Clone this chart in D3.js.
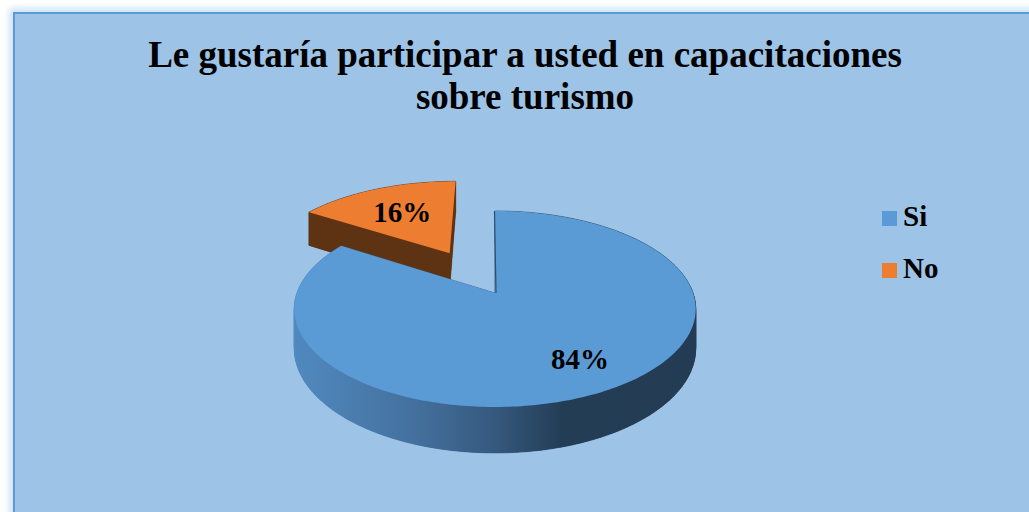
<!DOCTYPE html>
<html>
<head>
<meta charset="utf-8">
<script src="https://cdn.jsdelivr.net/npm/d3@7"></script>
<style>
  body { margin: 0; background: #fff; }
  svg { display: block; }
</style>
</head>
<body>
<div class="chart"></div>
<script>
// chart data
const titleLines = ["Le gustaría participar a usted en capacitaciones", "sobre turismo"];
const categories = ["Si", "No"];
const values = [84, 16];
const labels = ["84%", "16%"];
const colors = ["#5B9BD5", "#ED7D31"];
const explode = [0, 0.51];

const width = 1029, height = 512;
const serif = '"Liberation Serif", "Times New Roman", serif';

// 3d pie projection (simple perspective on the disk plane)
const cx = 495, cy = 293, A = 198, B = 95.4, K = 0.163, depth = 38.5;
function proj(u, v, down) {
    let w = 1 - K * v;
    return [cx + A * u / w, cy + (B * v + (down ? depth : 0)) / w];
}

let svg = d3.select('.chart')
    .append('svg')
    .attr('width', width)
    .attr('height', height);

let defs = svg.append('defs');
let glow = defs.append('filter').attr('id', 'glow')
    .attr('x', -0.1).attr('y', -0.1).attr('width', 1.2).attr('height', 1.2);
glow.append('feGaussianBlur').attr('stdDeviation', 3);

let grad = defs.append('linearGradient').attr('id', 'wall')
    .attr('gradientUnits', 'userSpaceOnUse')
    .attr('x1', 295).attr('x2', 700).attr('y1', 0).attr('y2', 0);
[[0, '#5089BF'], [0.29, '#44719E'], [0.49, '#36597F'], [0.66, '#233D55'], [1, '#233C53']]
    .forEach(s => grad.append('stop').attr('offset', s[0]).attr('stop-color', s[1]));

// chart area background and border
svg.append('rect')
    .attr('x', 14).attr('y', 13).attr('width', width + 20).attr('height', height + 20)
    .attr('fill', 'none').attr('stroke', '#C9E0F7').attr('stroke-width', 9)
    .attr('filter', 'url(#glow)');
svg.append('rect')
    .attr('x', 14).attr('y', 13).attr('width', width + 20).attr('height', height + 20)
    .attr('fill', '#9DC3E6').attr('stroke', '#5B9BD5').attr('stroke-width', 2);

// title
svg.append('text')
    .attr('x', 525).attr('y', 67)
    .style('text-anchor', 'middle')
    .style('font-family', serif).style('font-weight', 'bold').style('font-size', '37px')
    .selectAll('tspan')
    .data(titleLines)
    .enter()
    .append('tspan')
    .attr('x', 525)
    .attr('dy', (d, i) => i === 0 ? 0 : 42)
    .text(d => d);

// pie slices
let pie = d3.pie().sort(null).value(d => d)(values);
let slices = pie.map((p, i) => {
    let mid = (p.startAngle + p.endAngle) / 2;
    return {
        i: i,
        a0: p.startAngle,
        a1: p.endAngle,
        mid: mid,
        ox: explode[i] * Math.sin(mid),
        oy: -explode[i] * Math.cos(mid)
    };
});

function pt(s, a, r, down) {
    return proj(s.ox + r * Math.sin(a), s.oy - r * Math.cos(a), down);
}
function arcPts(s, down) {
    let n = Math.max(8, Math.ceil((s.a1 - s.a0) / (Math.PI / 180)));
    return d3.range(n + 1).map(k => pt(s, s.a0 + (s.a1 - s.a0) * k / n, 1, down));
}
let line = d3.line();

// farthest slice first
let order = slices.slice().sort((a, b) => (a.oy - Math.cos(a.mid)) - (b.oy - Math.cos(b.mid)));

let g = svg.append('g');
order.forEach(s => {
    let sideFill = s.i === 0 ? 'url(#wall)' : '#5E3313';
    let top = arcPts(s, false), bot = arcPts(s, true);
    let apexT = pt(s, 0, 0, false), apexB = pt(s, 0, 0, true);
    let sg = g.append('g');

    // outer wall
    for (let k = 0; k < top.length - 1; k++) {
        sg.append('path')
            .attr('d', line([top[k], top[k + 1], bot[k + 1], bot[k]]) + 'Z')
            .attr('fill', sideFill).attr('stroke', sideFill).attr('stroke-width', 0.6);
    }
    // bottom face
    sg.append('path')
        .attr('d', line([apexB].concat(bot)) + 'Z')
        .attr('fill', sideFill);
    // radial cut faces
    [[top[0], bot[0]], [top[top.length - 1], bot[bot.length - 1]]].forEach(e => {
        sg.append('path')
            .attr('d', line([apexT, e[0], e[1], apexB]) + 'Z')
            .attr('fill', sideFill).attr('stroke', sideFill).attr('stroke-width', 0.5);
    });
    // top face
    sg.append('path')
        .attr('d', line([apexT].concat(top)) + 'Z')
        .attr('fill', colors[s.i]);
    // thin dark edge where the big slice is cut at 12 o'clock
    if (s.i === 0) {
        sg.append('path')
            .attr('d', line([[top[0][0] - 0.5, top[0][1]], [apexT[0] + 1, apexT[1]]]))
            .attr('stroke', '#2E4E6E').attr('stroke-width', 1.2).attr('fill', 'none');
    }
});

// data labels (angle shift in radians, radius fraction)
let labelPos = [[-0.055, 0.73], [0, 0.62]];
slices.forEach(s => {
    let p = pt(s, s.mid + labelPos[s.i][0], labelPos[s.i][1], false);
    svg.append('text')
        .attr('x', p[0]).attr('y', p[1] + 10)
        .style('text-anchor', 'middle')
        .style('font-family', serif).style('font-weight', 'bold').style('font-size', '29px')
        .text(labels[s.i]);
});

// legend
let legend = svg.append('g')
    .selectAll('g')
    .data(categories)
    .enter()
    .append('g')
    .attr('transform', (d, i) => `translate(882, ${211 + i * 52})`);
legend.append('rect')
    .attr('width', 15).attr('height', 15)
    .attr('fill', (d, i) => colors[i]);
legend.append('text')
    .attr('x', 21).attr('y', 15)
    .style('font-family', serif).style('font-weight', 'bold').style('font-size', '29px')
    .text(d => d);
</script>
</body>
</html>
